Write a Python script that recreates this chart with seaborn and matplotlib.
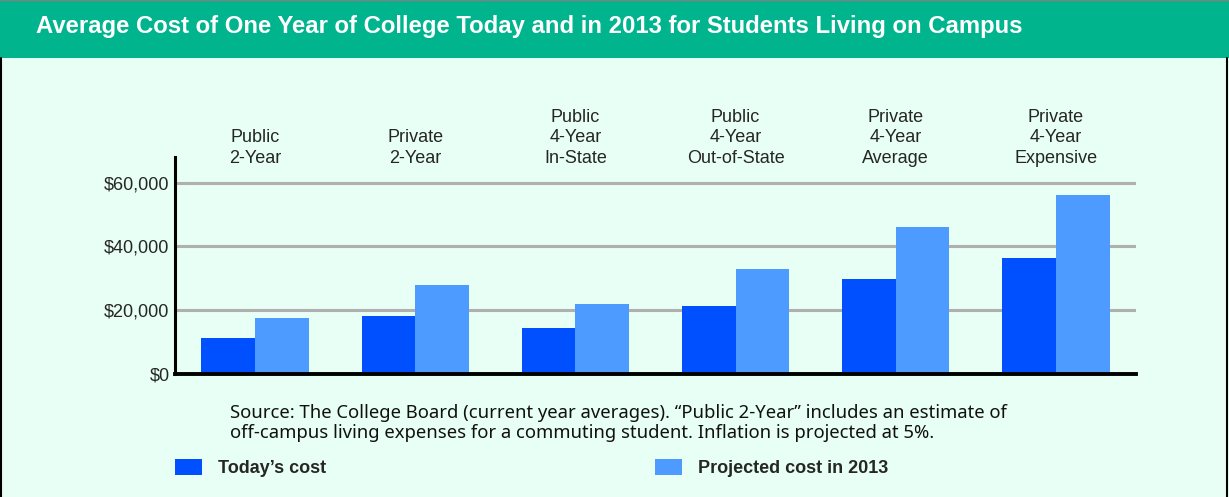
import numpy as np
import pandas as pd
import matplotlib
matplotlib.use("Agg")
import matplotlib.pyplot as plt
import seaborn as sns
from matplotlib.patches import Rectangle
from matplotlib.lines import Line2D
from matplotlib.ticker import FuncFormatter

# data
categories = ["Public\n2-Year", "Private\n2-Year", "Public\n4-Year\nIn-State",
              "Public\n4-Year\nOut-of-State", "Private\n4-Year\nAverage",
              "Private\n4-Year\nExpensive"]
today_cost = [11350, 18200, 14500, 21300, 29800, 36300]
projected_2013 = [17600, 27900, 22000, 32900, 46000, 56000]
series_names = ["Today\u2019s cost", "Projected cost in 2013"]
y_ticks = [0, 20000, 40000, 60000]

df = pd.DataFrame({
    "category": categories * 2,
    "cost": today_cost + projected_2013,
    "series": [series_names[0]] * 6 + [series_names[1]] * 6,
})

bg = "#E8FFF5"
green = "#00B48E"
dark_blue = "#0050FF"
light_blue = "#4D9BFF"

sns.set_style("white")
plt.rcParams["font.family"] = ["Liberation Sans", "DejaVu Sans"]

fig = plt.figure(figsize=(12.29, 4.97), dpi=100, facecolor=bg)
ax = fig.add_axes([175 / 1229, 123 / 497, 961 / 1229, 217 / 497])
ax.set_facecolor(bg)

sns.barplot(data=df, x="category", y="cost", hue="series", order=categories,
            hue_order=series_names, palette=[dark_blue, light_blue],
            width=0.67, saturation=1, linewidth=0, ax=ax, legend=True)

handles, labels = ax.get_legend_handles_labels()
ax.legend_.remove()

ax.set_xlim(-0.5, 5.5)
ax.set_ylim(0, 68000)
ax.set_yticks(y_ticks)
ax.yaxis.set_major_formatter(FuncFormatter(lambda v, p: "${:,.0f}".format(v)))
ax.set_xlabel("")
ax.set_ylabel("")

for v in y_ticks[1:]:
    ax.axhline(v, color="#B0B0B0", lw=2.2, zorder=0)
ax.set_axisbelow(True)

ax.xaxis.tick_top()
ax.tick_params(axis="x", length=0, pad=-7, labelsize=13)
ax.tick_params(axis="y", length=0, pad=4, labelsize=13)
for lbl in ax.get_xticklabels():
    lbl.set_linespacing(1.25)

for s in ["top", "right"]:
    ax.spines[s].set_visible(False)
ax.spines["left"].set_color("black")
ax.spines["left"].set_linewidth(2.2)
ax.spines["bottom"].set_color("black")
ax.spines["bottom"].set_linewidth(2.8)

# title banner and frame
fig.patches.append(Rectangle((0, 1 - 58 / 497), 1, 58 / 497, transform=fig.transFigure,
                             facecolor=green, edgecolor="none", zorder=0))
fig.add_artist(Line2D([0.001, 0.001], [0, 1 - 58 / 497], color="black", lw=1.5,
                      transform=fig.transFigure))
fig.add_artist(Line2D([0.998, 0.998], [0, 1 - 58 / 497], color="black", lw=1.5,
                      transform=fig.transFigure))
fig.add_artist(Line2D([0, 1], [0.999, 0.999], color="#808080", lw=1,
                      transform=fig.transFigure))
fig.text(36 / 1229, 1 - 26 / 497,
         "Average Cost of One Year of College Today and in 2013 for Students Living on Campus",
         color="white", fontsize=17.2, fontweight="bold", va="center", ha="left")

fig.text(230 / 1229, 1 - 423 / 497,
         "Source: The College Board (current year averages). \u201cPublic 2-Year\u201d includes an estimate of\n"
         "off-campus living expenses for a commuting student. Inflation is projected at 5%.",
         fontsize=13.3, family=["Noto Sans", "DejaVu Sans"], va="center", ha="left",
         linespacing=1.17, color="#111111")

fig.legend(handles, labels, loc="center left", bbox_to_anchor=(175 / 1229, 1 - 468 / 497),
           ncol=2, frameon=False, handlelength=1.5, handleheight=0.95,
           handletextpad=0.9, columnspacing=18.2, borderpad=0, borderaxespad=0,
           prop={"weight": "bold", "size": 13})

fig.savefig("out.png", dpi=100, facecolor=bg)
